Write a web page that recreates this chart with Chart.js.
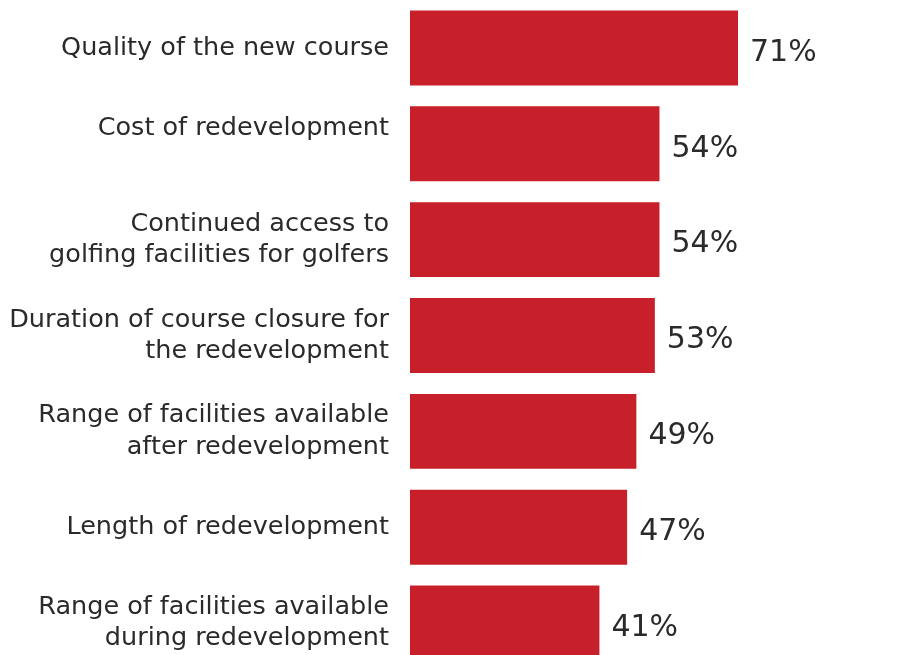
<!DOCTYPE html>
<html>
<head>
<meta charset="utf-8">
<script src="https://cdn.jsdelivr.net/npm/chart.js@4/dist/chart.umd.min.js"></script>
<style>
  html, body { margin: 0; padding: 0; background: #ffffff; overflow: hidden; }
  #wrap { width: 904px; height: 671px; position: relative; }
</style>
</head>
<body>
<div id="wrap"><canvas id="c"></canvas></div>
<script>
// Categories (multi-line labels as arrays)
const categories = [
  "Quality of the new course",
  ["Cost of redevelopment", ""],
  ["Continued access to", "golfing facilities for golfers"],
  ["Duration of course closure for", "the redevelopment"],
  ["Range of facilities available", "after redevelopment"],
  "Length of redevelopment",
  ["Range of facilities available", "during redevelopment"]
];
// Series values (percent)
const values = [71, 54, 54, 53, 49, 47, 41];
// Value labels shown beside bars
const valueLabels = ["71%", "54%", "54%", "53%", "49%", "47%", "41%"];

const barColor = "#C8202A";
const textColor = "#2a2a2a";

const valueLabelPlugin = {
  id: "valueLabels",
  afterDatasetsDraw(chart) {
    const ctx = chart.ctx;
    const meta = chart.getDatasetMeta(0);
    ctx.save();
    ctx.font = "30px 'DejaVu Sans'";
    ctx.fillStyle = textColor;
    ctx.textAlign = "left";
    ctx.textBaseline = "middle";
    meta.data.forEach((bar, i) => {
      ctx.fillText(valueLabels[i], bar.x + 12, bar.y + 5);
    });
    ctx.restore();
  }
};

new Chart(document.getElementById("c"), {
  type: "bar",
  data: {
    labels: categories,
    datasets: [{
      data: values,
      backgroundColor: barColor,
      borderWidth: 0,
      categoryPercentage: 1.0,
      barPercentage: 0.782
    }]
  },
  options: {
    indexAxis: "y",
    responsive: true,
    maintainAspectRatio: false,
    devicePixelRatio: 1,
    animation: false,
    layout: { padding: { left: 0, right: 32, top: 0, bottom: 0 } },
    plugins: {
      legend: { display: false },
      tooltip: { enabled: false },
      title: { display: false }
    },
    scales: {
      x: {
        display: false,
        min: 0,
        max: 100
      },
      y: {
        grid: { display: false, drawTicks: false },
        border: { display: false },
        ticks: {
          color: textColor,
          padding: 21,
          font: { family: "'DejaVu Sans'", size: 25.5, lineHeight: 1.22 },
          crossAlign: "near"
        },
        afterFit(scale) {
          scale.width = 410;
          scale.paddingTop = 0;
          scale.paddingBottom = 0;
        }
      }
    }
  },
  plugins: [valueLabelPlugin]
});
</script>
</body>
</html>
